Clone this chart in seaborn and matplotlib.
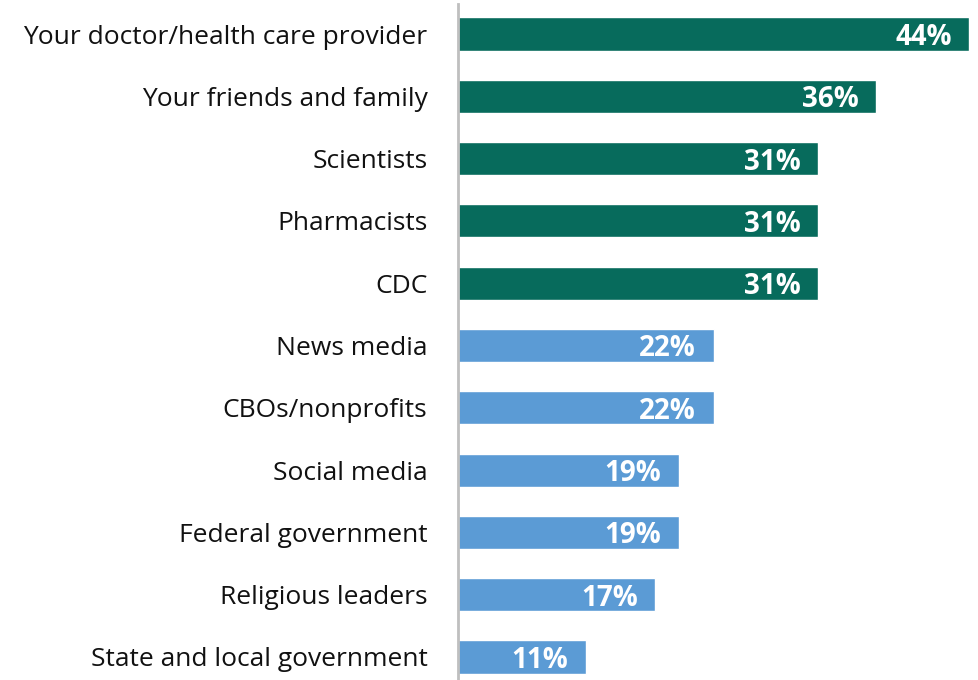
import matplotlib
matplotlib.use("Agg")
import matplotlib.pyplot as plt
import seaborn as sns
import pandas as pd

categories = ["Your doctor/health care provider", "Your friends and family", "Scientists",
              "Pharmacists", "CDC", "News media", "CBOs/nonprofits", "Social media",
              "Federal government", "Religious leaders", "State and local government"]
values = [44, 36, 31, 31, 31, 22, 22, 19, 19, 17, 11]
groups = ["top"] * 5 + ["other"] * 6
palette = {"top": "#076B5C", "other": "#5B9BD5"}

df = pd.DataFrame({"category": categories, "value": values, "group": groups})

sns.set_theme(style="white")
plt.rcParams["font.family"] = ["Open Sans", "DejaVu Sans"]

fig = plt.figure(figsize=(9.79, 6.8), dpi=100)
ax = fig.add_axes([458 / 979, 0, (969 - 458) / 979, 1 - 4 / 680])

sns.barplot(data=df, y="category", x="value", hue="group", palette=palette,
            dodge=False, legend=False, width=0.53, ax=ax, orient="h", saturation=1)

ax.set_xlim(0, 44)
ax.set_ylim(10 + 23 / 62.3, -30 / 62.3)
ax.set_xlabel("")
ax.set_ylabel("")
ax.set_xticks([])
for s in ["top", "right", "bottom"]:
    ax.spines[s].set_visible(False)
ax.spines["left"].set_color("#BFBFBF")
ax.spines["left"].set_linewidth(2)
ax.tick_params(axis="y", length=0, pad=22, labelsize=19, labelcolor="#111111")

for i, v in enumerate(values):
    ax.text(v - 1.5, i, f"{v}%", ha="right", va="center_baseline", color="white",
            fontsize=20, fontweight="bold")

fig.savefig("out.png", dpi=100)
